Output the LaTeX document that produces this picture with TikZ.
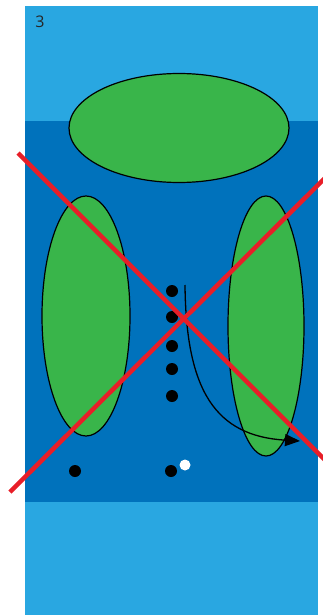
\documentclass[tikz,border=0pt]{standalone}
\usepackage{fontspec}
\setsansfont{Open Sans}
\usetikzlibrary{shapes.geometric,arrows.meta}
\definecolor{lightblue}{RGB}{41,167,225}
\definecolor{darkblue}{RGB}{0,114,188}
\definecolor{fieldgreen}{RGB}{57,181,74}
\definecolor{crossred}{RGB}{232,30,40}
\tikzset{
  zone/.style={ellipse,draw=black,line width=1.2pt,fill=fieldgreen,inner sep=0pt},
  blackdot/.style={circle,fill=black,inner sep=0pt,minimum size=12pt},
  whitedot/.style={circle,fill=white,inner sep=0pt,minimum size=11pt},
  crossline/.style={draw=crossred,line width=4.5pt},
  runarrow/.style={draw=black,line width=1.3pt,-{Triangle[length=15pt,width=12pt]}}
}
\begin{document}
\begin{tikzpicture}[x=1pt,y=-1pt]
\useasboundingbox (0,0) rectangle (323,615);
\begin{scope}
\clip (0,0) rectangle (323,615);
\fill[lightblue] (25,6) rectangle (318,121);
\fill[darkblue] (25,121) rectangle (318,502);
\fill[lightblue] (25,502) rectangle (318,615);
\node[font=\sffamily\fontsize{16}{18}\selectfont,text=black!85] (num) at (40,22) {3};
\node[zone,minimum width=220pt,minimum height=109pt] (top) at (179,128) {};
\node[zone,minimum width=88pt,minimum height=240pt] (left) at (86,316) {};
\node[zone,minimum width=76pt,minimum height=260pt] (right) at (266,326) {};
\node[blackdot] (d1) at (172,291) {};
\node[blackdot] (d2) at (172,317) {};
\node[blackdot] (d3) at (172,346) {};
\node[blackdot] (d4) at (172,369) {};
\node[blackdot] (d5) at (172,396) {};
\node[blackdot] (d6) at (75,471) {};
\node[blackdot] (d7) at (171,471) {};
\node[whitedot] (w1) at (185,465) {};
\coordinate (as) at (185,285);
\coordinate (ae) at (300,441);
\draw[runarrow] (as) .. controls (186,390) and (215,436) .. (ae);
\coordinate (r1a) at (18,153);
\coordinate (r1b) at (330,465);
\coordinate (r2a) at (10,492);
\coordinate (r2b) at (330,173);
\draw[crossline] (r1a) -- (r1b);
\draw[crossline] (r2a) -- (r2b);
\end{scope}
\end{tikzpicture}
\end{document}
